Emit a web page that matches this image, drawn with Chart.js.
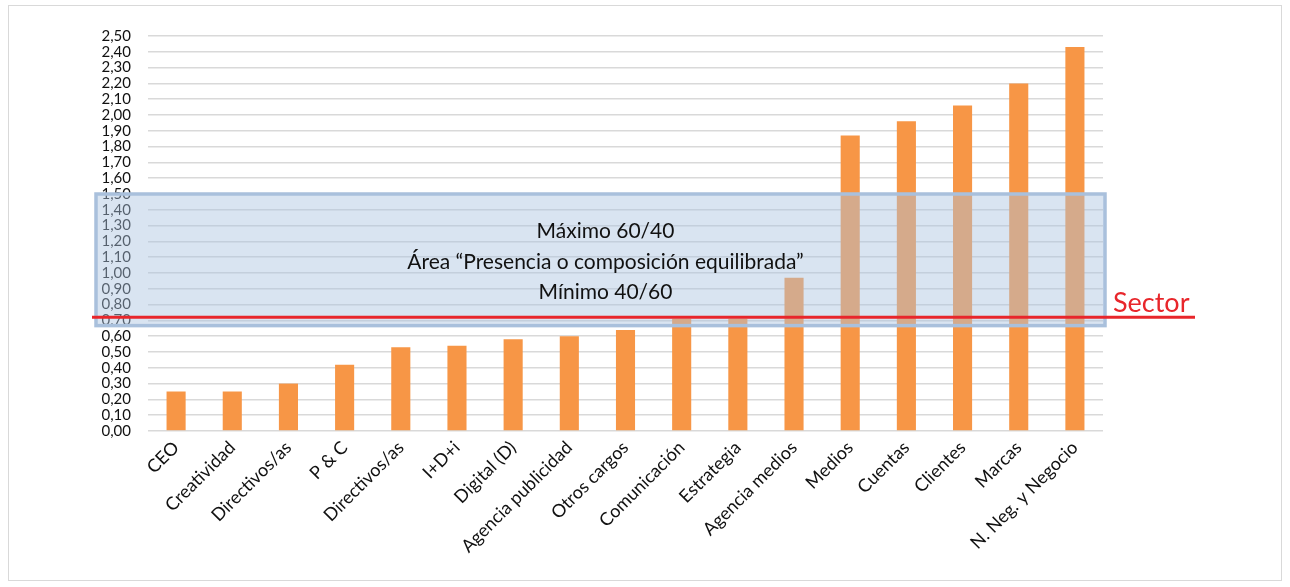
<!DOCTYPE html>
<html>
<head>
<meta charset="utf-8">
<script src="https://cdn.jsdelivr.net/npm/chart.js@4/dist/chart.umd.min.js"></script>
<style>
  html, body { margin: 0; padding: 0; background: #fff; }
  #wrap { width: 1290px; height: 587px; position: relative; }
</style>
</head>
<body>
<div id="wrap"><canvas id="grafico"></canvas></div>
<script>
const categorias = [
  "CEO", "Creatividad", "Directivos/as", "P & C", "Directivos/as", "I+D+i",
  "Digital (D)", "Agencia publicidad", "Otros cargos", "Comunicación",
  "Estrategia", "Agencia medios", "Medios", "Cuentas", "Clientes", "Marcas",
  "N. Neg. y Negocio",
];
const valores = [
  0.25, 0.25, 0.30, 0.42, 0.53, 0.54, 0.58, 0.60, 0.64, 0.71, 0.71, 0.97,
  1.87, 1.96, 2.06, 2.20, 2.43,
];
const ejeMin = 0;
const ejeMax = 2.5;
const ejePaso = 0.1;

// area equilibrada y linea del sector
const areaMin = 0.667;
const areaMax = 1.5;
const sector = 0.72;
const textosArea = [
  "Máximo 60/40",
  "Área “Presencia o composición equilibrada”",
  "Mínimo 40/60",
];
const etiquetaSector = "Sector";

const fuente = "Lato, 'Open Sans', sans-serif";

const capaArea = {
  id: "capaArea",
  beforeDraw(chart) {
    const ctx = chart.ctx;
    ctx.save();
    ctx.fillStyle = "#fff";
    ctx.fillRect(0, 0, chart.width, chart.height);
    ctx.strokeStyle = "#D9D9D9";
    ctx.lineWidth = 1;
    ctx.strokeRect(8.5, 5.5, 1273, 575);
    ctx.restore();
  },
  afterDraw(chart) {
    const ctx = chart.ctx;
    const y = chart.scales.y;
    const area = chart.chartArea;
    const x0 = area.left - 52;
    const x1 = area.right + 2;
    const top = y.getPixelForValue(areaMax);
    const bottom = y.getPixelForValue(areaMin);
    const alto = bottom - top;

    ctx.save();
    ctx.fillStyle = "rgba(170, 195, 225, 0.45)";
    ctx.fillRect(x0, top, x1 - x0, alto);
    ctx.strokeStyle = "#A9C0DC";
    ctx.lineWidth = 3.5;
    ctx.strokeRect(x0, top, x1 - x0, alto);

    ctx.fillStyle = "#111";
    ctx.font = "21px " + fuente;
    ctx.textAlign = "center";
    ctx.textBaseline = "middle";
    const cx = (x0 + x1) / 2 + 5;
    textosArea.forEach((t, i) => {
      ctx.fillText(t, cx, top + alto * (0.28 + i * 0.235));
    });

    const ys = y.getPixelForValue(sector);
    ctx.strokeStyle = "#E8262B";
    ctx.lineWidth = 3;
    ctx.beginPath();
    ctx.moveTo(area.left - 56, ys);
    ctx.lineTo(area.right + 92, ys);
    ctx.stroke();

    ctx.fillStyle = "#E8262B";
    ctx.font = "27px " + fuente;
    ctx.textAlign = "left";
    ctx.textBaseline = "alphabetic";
    ctx.fillText(etiquetaSector, area.right + 10, ys - 5);
    ctx.restore();
  },
};

new Chart(document.querySelector("#grafico"), {
  type: "bar",
  data: {
    labels: categorias,
    datasets: [
      {
        data: valores,
        backgroundColor: "#F79646",
        barPercentage: 0.34,
        categoryPercentage: 1,
      },
    ],
  },
  options: {
    responsive: true,
    maintainAspectRatio: false,
    animation: false,
    devicePixelRatio: 1,
    layout: { padding: { top: 36, right: 187, bottom: 0, left: 0 } },
    plugins: {
      legend: { display: false },
      tooltip: { enabled: false },
    },
    scales: {
      x: {
        grid: { display: false, drawTicks: false },
        border: { display: false },
        ticks: {
          color: "#111",
          font: { family: fuente, size: 18 },
          maxRotation: 45,
          minRotation: 45,
          autoSkip: false,
          padding: 6,
        },
        afterFit(scale) {
          scale.height = 156;
        },
      },
      y: {
        min: ejeMin,
        max: ejeMax,
        grid: { color: "#D9D9D9", lineWidth: 1.6, drawTicks: false },
        border: { display: false },
        ticks: {
          stepSize: ejePaso,
          autoSkip: false,
          color: "#111",
          font: { family: fuente, size: 15 },
          padding: 17,
          callback: (v) => v.toFixed(2).replace(".", ","),
        },
        afterFit(scale) {
          scale.width = 148;
        },
      },
    },
  },
  plugins: [capaArea],
});
</script>
</body>
</html>
